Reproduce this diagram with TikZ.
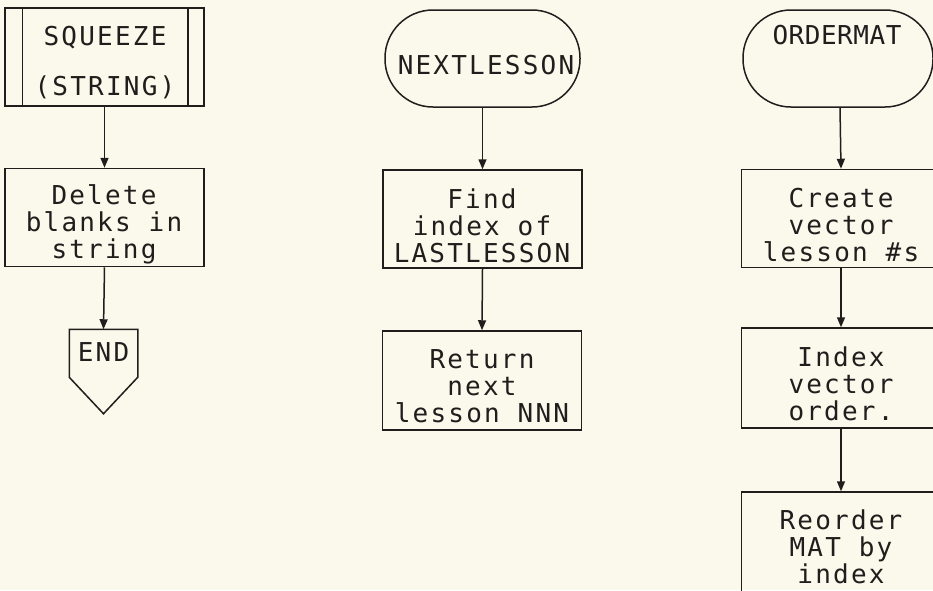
\documentclass[tikz,border=0pt]{standalone}
\usepackage{fontspec}
\setmonofont{DejaVu Sans Mono}[LetterSpace=8.5]
\usetikzlibrary{arrows.meta,calc}
\definecolor{paper}{RGB}{251,249,236}
\definecolor{ink}{RGB}{32,30,28}
\newcommand\plotfont{\ttfamily\fontsize{26}{27}\selectfont}
\begin{document}
\begin{tikzpicture}[x=1pt,y=-1pt,line width=1.5pt,
  proc/.style={draw=ink,rectangle,minimum width=199pt,minimum height=98pt,inner sep=0pt},
  term/.style={draw=ink,rectangle,rounded corners=48pt,minimum height=97pt,inner sep=0pt},
  lbl/.style={inner sep=0pt,font=\plotfont,text=ink,align=center},
  arr/.style={draw=ink,-{Triangle[length=10pt,width=8pt]}}]
\fill[paper] (0,0) rectangle (933,590);
\useasboundingbox (0,0) rectangle (933,590);
\clip (0,0) rectangle (933,590);

% column 1
\node[proc] (sq) at (104.5,57) {};
\draw[ink] ([xshift=18pt]sq.north west) -- ([xshift=18pt]sq.south west);
\draw[ink] ([xshift=-17pt]sq.north east) -- ([xshift=-17pt]sq.south east);
\node[lbl] (sqt) at (105,63) {SQUEEZE\\[23pt](STRING)};
\node[proc] (del) at (104.5,217.5) {};
\node[lbl] (delt) at (104,224) {Delete\\blanks in\\string};
\node[minimum width=67pt,minimum height=83pt,inner sep=0pt] (end) at (103.5,371.5) {};
\draw[ink,line join=miter] (end.north west) -- (end.north east) -- ($(end.north east)+(0,48)$) -- (end.south) -- ($(end.north west)+(0,48)$) -- cycle;
\node[lbl] (endt) at (103.5,352) {END};
\draw[arr] (sq.south) -- (del.north);
\draw[arr] (del.south) -- (end.north);

% column 2
\node[term,minimum width=195pt] (nl) at (482.5,58.5) {};
\node[lbl] (nlt) at (486,65) {NEXTLESSON};
\node[proc] (find) at (482.5,219) {};
\node[lbl] (findt) at (482,226) {Find\\index of\\LASTLESSON};
\node[proc,minimum height=99pt] (ret) at (482,380.5) {};
\node[lbl] (rett) at (482,386) {Return\\next\\lesson NNN};
\draw[arr] (nl.south) -- (find.north);
\draw[arr] (find.south) -- (ret.north);

% column 3
\node[term,minimum width=190pt] (om) at (838,58.5) {};
\node[lbl] (omt) at (837,35) {\addfontfeature{LetterSpace=2}ORDERMAT};
\node[proc] (cr) at (841,218.5) {};
\node[lbl] (crt) at (841,225) {Create\\vector\\lesson \#s};
\node[proc,minimum height=100pt] (ix) at (841,378) {};
\node[lbl] (ixt) at (841,384) {Index\\vector\\order.};
\node[proc,minimum height=100pt] (ro) at (841,542) {};
\node[lbl] (rot) at (841,547) {Reorder\\MAT by\\index};
\draw[arr] ($(om.south)+(2,0)$) -- (cr.north);
\draw[arr] (cr.south) -- (ix.north);
\draw[arr] (ix.south) -- (ro.north);
\end{tikzpicture}
\end{document}
